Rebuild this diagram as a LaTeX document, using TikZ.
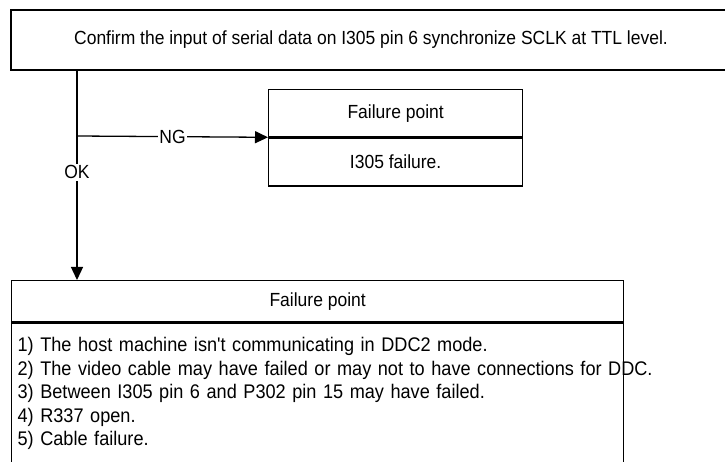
\documentclass[tikz,border=0pt]{standalone}
\usepackage{fontspec}
\setmainfont{Liberation Sans}[Ligatures=TeXOff,FakeStretch=0.92]
\usetikzlibrary{positioning,arrows.meta}

\begin{document}
\begin{tikzpicture}[
    x=1bp,y=-1bp,
    box/.style={rectangle,draw,line width=1.3bp,inner sep=0pt},
    tag/.style={fill=white,inner sep=1.5bp},
    flow/.style={line width=1.3bp,-{Triangle[length=13bp,width=12bp]}},
    font=\fontsize{19bp}{23.5bp}\selectfont
    ]
    \useasboundingbox (0,0) rectangle (725,462);

    \node (check) [box,minimum width=720bp,minimum height=60bp] at (371,40)
        {Confirm the input of serial data on I305 pin 6 synchronize SCLK at TTL level.};

    \node (fail1head) [box,minimum width=254bp,minimum height=47bp,anchor=north west] at (268,89) {Failure point};
    \node (fail1body) [box,minimum width=254bp,minimum height=48bp,below=0 of fail1head] {I305 failure.};

    \node (fail2head) [box,minimum width=612bp,minimum height=41bp,anchor=north west] at (11,280) {Failure point};
    \node (fail2body) [box,text width=600bp,inner xsep=6bp,align=left,below=0 of fail2head,
        font=\fontsize{19.7bp}{23.5bp}\selectfont]
        {\rule{0pt}{29bp}1) The host machine isn't communicating in DDC2 mode.\\
         2) The video cable may have failed or may not to have connections for \rlap{DDC.}\\
         3) Between I305 pin 6 and P302 pin 15 may have failed.\\
         4) R337 open.\\
         5) Cable failure.\rule[-40bp]{0pt}{0pt}};

    \coordinate (split) at (77,136);

    \draw[flow] (check.south -| split) -- node [tag,pos=0.486] {OK} (fail2head.north -| split);
    \draw[flow] (split) -- node [tag] {NG} (fail1head.south west);

\end{tikzpicture}
\end{document}
